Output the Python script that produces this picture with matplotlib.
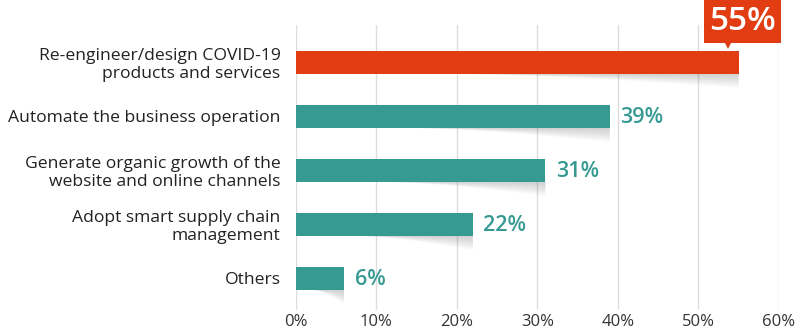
import numpy as np
import matplotlib.pyplot as plt
from matplotlib.patches import Polygon

plt.rcParams['font.family'] = ['Open Sans', 'DejaVu Sans']

categories = ['Re-engineer/design COVID-19\nproducts and services',
              'Automate the business operation',
              'Generate organic growth of the\nwebsite and online channels',
              'Adopt smart supply chain\nmanagement',
              'Others']
values = [55, 39, 31, 22, 6]
ticks = [0, 10, 20, 30, 40, 50, 60]
tick_labels = ['0%', '10%', '20%', '30%', '40%', '50%', '60%']

red = '#E23D12'
teal = '#369A93'
colors = [red] + [teal] * 4
h = 0.43

fig = plt.figure(figsize=(8.08, 3.31), dpi=100)
ax = fig.add_axes([0.366, 0.063, 0.598, 0.861])

y = np.arange(len(values))
ax.barh(y, values, height=h, color=colors, zorder=3)

# soft curled shadow under the right part of each bar
for yi, v in zip(y, values):
    x0 = v * 0.35
    xs = np.linspace(x0, v, 40)
    n = 8
    for k in range(n):
        d = 0.26 * (k + 1) / n
        low = yi + h / 2 + d * ((xs - x0) / (v - x0)) ** 1.5
        pts = np.column_stack([np.r_[xs, xs[::-1]], np.r_[low, np.full_like(xs, yi + h / 2)[::-1]]])
        ax.add_patch(Polygon(pts, closed=True, facecolor='#666666', alpha=0.04,
                             edgecolor='none', zorder=2))

for yi, v in zip(y[1:], values[1:]):
    ax.text(v + 1.3, yi + 0.03, f'{v}%', va='center', ha='left', color=teal,
            fontsize=15.5, fontweight='semibold', zorder=4)

# callout for the top bar
tx = values[0] + 0.5
ax.text(tx, -0.75, f'{values[0]}%', ha='center', va='center', color='white',
        fontsize=24, fontweight='semibold', clip_on=False, zorder=5,
        bbox=dict(boxstyle='square,pad=0.16', facecolor=red, edgecolor='none'))
ax.plot([values[0] - 1.3], [-0.37], marker='v', markersize=10, color=red,
        clip_on=False, zorder=5, markeredgewidth=0)

ax.set_xlim(0, 60)
ax.set_ylim(4.59, -0.685)
ax.set_xticks(ticks)
ax.set_xticklabels(tick_labels, fontsize=12, color='#333333')
ax.set_yticks(y)
ax.set_yticklabels(categories, fontsize=12.6, color='#222222', linespacing=1.15)
ax.tick_params(axis='both', length=0, pad=3)
ax.tick_params(axis='y', pad=11)
ax.grid(axis='x', color='#DDDDDD', linewidth=1, zorder=0)
for s in ax.spines.values():
    s.set_visible(False)

fig.savefig('out.png', dpi=100)
